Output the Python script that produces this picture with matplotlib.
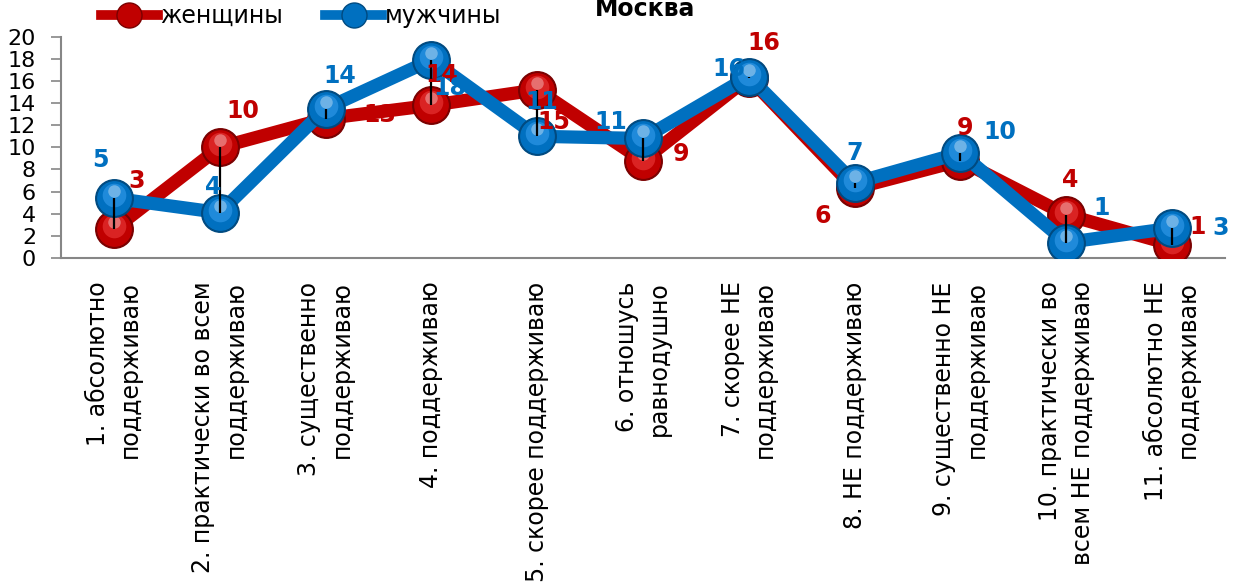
import matplotlib
matplotlib.use("Agg")
import matplotlib.pyplot as plt
import matplotlib.transforms as mtransforms
from matplotlib.lines import Line2D

plt.rcParams['font.family'] = ['DejaVu Sans']

categories = [
    "1. абсолютно\nподдерживаю",
    "2. практически во всем\nподдерживаю",
    "3. существенно\nподдерживаю",
    "4. поддерживаю",
    "5. скорее поддерживаю",
    "6. отношусь\nравнодушно",
    "7. скорее НЕ\nподдерживаю",
    "8. НЕ поддерживаю",
    "9. существенно НЕ\nподдерживаю",
    "10. практически во\nвсем НЕ поддерживаю",
    "11. абсолютно НЕ\nподдерживаю",
]
women = [2.6, 10.0, 12.6, 13.8, 15.2, 8.8, 16.3, 6.3, 8.8, 3.9, 1.2]
men = [5.4, 4.1, 13.5, 17.9, 11.0, 10.8, 16.4, 6.8, 9.5, 1.4, 2.7]
women_labels = ["3", "10", "13", "14", "15", "9", "16", "6", "9", "4", "1"]
men_labels = ["5", "4", "14", "18", "11", "11", "16", "7", "10", "1", "3"]
yticks = list(range(0, 21, 2))
title = "Москва"
series_names = ["женщины", "мужчины"]

# label offsets in pixels (dx, dy) with y up
women_off = [(23, 48), (23, 36), (54, 4), (10, 30), (17, -32), (38, 7), (15, 35),
             (-32, -28), (5, 33), (4, 35), (25, 18)]
men_off = [(-13, 38), (-7, 26), (14, 33), (18, -28), (5, 34), (-32, 16), (-20, 8),
           (0, 30), (39, 21), (35, 35), (49, 0)]

RED = "#C00000"
BLUE = "#0070C0"

fig = plt.figure(figsize=(12.45, 5.83), dpi=100)
ax = fig.add_axes([61/1245, 1-258/583, (1225-61)/1245, (258-36.7)/583])

x = list(range(len(categories)))


def sphere(xs, ys, base, light, dark, z):
    ax.plot(xs, ys, ls='none', marker='o', ms=27, mfc=dark, mec=dark, mew=1, zorder=z)
    ax.plot(xs, ys, ls='none', marker='o', ms=24, mfc=base, mec=base, zorder=z + 0.01)
    steps = [(17, light, 3, 0.55), (9, '#ffffff', 7, 0.35)]
    for ms, col, dy, a in steps:
        off = mtransforms.offset_copy(ax.transData, fig=fig, x=0, y=dy, units='dots')
        ax.plot(xs, ys, ls='none', marker='o', ms=ms, mfc=col, mec='none',
                alpha=a, transform=off, zorder=z + 0.02)


ax.plot(x, women, color=RED, lw=9.5, solid_joinstyle='miter', zorder=2)
sphere(x, women, RED, '#f04040', '#7a0000', 3)
ax.plot(x, men, color=BLUE, lw=9.5, solid_joinstyle='miter', zorder=4)
sphere(x, men, BLUE, '#3aa0f0', '#004a80', 5)

ax.vlines(x, women, men, colors='black', lw=1.6, zorder=7)

for xi, v, lab, (dx, dy) in zip(x, women, women_labels, women_off):
    ax.annotate(lab, (xi, v), xytext=(dx, dy), textcoords='offset pixels',
                ha='center', va='center', color=RED, fontsize=17, fontweight='bold', zorder=8)
for xi, v, lab, (dx, dy) in zip(x, men, men_labels, men_off):
    ax.annotate(lab, (xi, v), xytext=(dx, dy), textcoords='offset pixels',
                ha='center', va='center', color=BLUE, fontsize=17, fontweight='bold', zorder=9)

ax.set_xlim(-0.5, len(categories) - 0.5)
ax.set_ylim(0, 20)
ax.set_yticks(yticks)
ax.set_yticklabels([str(t) for t in yticks], fontsize=16)
ax.set_xticks(x)
ax.set_xticklabels(categories, rotation=90, fontsize=17, va='top', ha='center',
                   multialignment='right', linespacing=1.45)
ax.tick_params(axis='x', length=0, pad=17)
ax.tick_params(axis='y', length=7, color='#868686', width=1.2, pad=11)
for s in ['top', 'right']:
    ax.spines[s].set_visible(False)
for s in ['left', 'bottom']:
    ax.spines[s].set_color('#868686')
    ax.spines[s].set_linewidth(1.5)

handles = [
    Line2D([], [], color=RED, lw=7, marker='o', ms=18, mfc=RED, mec='#7a0000'),
    Line2D([], [], color=BLUE, lw=7, marker='o', ms=18, mfc=BLUE, mec='#004a80'),
]
fig.legend(handles, series_names, loc='center left', bbox_to_anchor=(101/1245, 1-16/583),
           ncol=2, frameon=False, fontsize=17, handlelength=2.4, handletextpad=0.1,
           columnspacing=1.8, borderaxespad=0, borderpad=0)
fig.text(645/1245, 1-16/583, title, ha='center', va='baseline', fontsize=17, fontweight='bold')

fig.savefig("out.png", dpi=100)
